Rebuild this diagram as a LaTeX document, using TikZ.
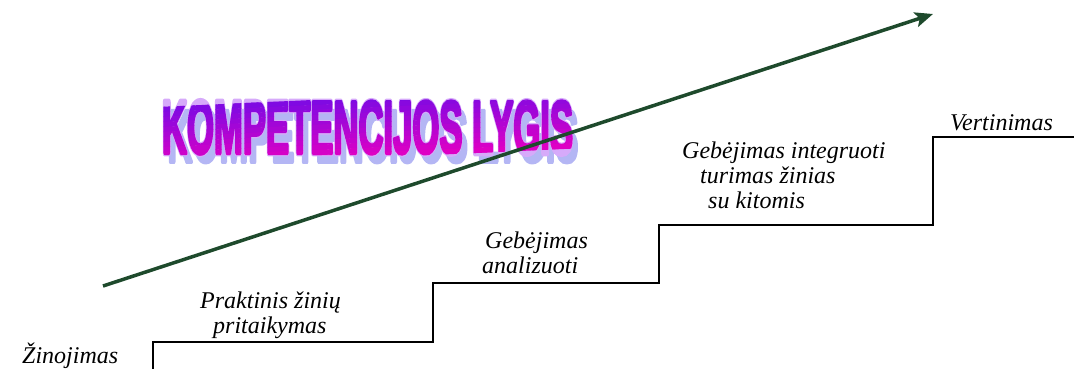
\documentclass[tikz,border=0pt]{standalone}
\usepackage{fontspec}
\usepackage{graphicx}
\usetikzlibrary{arrows.meta}
\newfontfamily\labfont{Liberation Serif}
\newfontfamily\wafont{Liberation Sans Bold}[FakeBold=5]
\newfontfamily\waoutfont{Liberation Sans Bold}[FakeBold=8.5]
\definecolor{arrowgreen}{RGB}{30,74,44}
\definecolor{watop}{RGB}{128,10,226}
\definecolor{wabot}{RGB}{222,0,196}
\definecolor{waline}{RGB}{214,170,250}
\definecolor{washadow}{RGB}{180,182,244}
\newcommand\wordart[1]{\resizebox{411pt}{52pt}{#1KOMPETENCIJOS LYGIS}}
\tikzset{
  lbl/.style={font=\labfont\itshape\fontsize{24}{26}\selectfont, anchor=base west, inner sep=0pt},
  wa/.style={inner sep=0pt, anchor=center, miter limit=1.5, line join=round},
  stairs/.style={line width=2.2pt, black, line join=miter},
  growth/.style={line width=3.5pt, arrowgreen, -{Stealth[length=18pt,width=15pt,inset=4pt]}}
}
\begin{document}
\begin{tikzpicture}[x=1pt,y=1pt]
\useasboundingbox (0,0) rectangle (1074,368);
% word art
\begin{scope}[shift={(367.5,240.5)},rotate=2.6]
  \node[wa,text=washadow] (wshadow) at (5,-9) {\wordart\wafont};
  \node[wa,text=waline] (wline) at (0,0) {\wordart\waoutfont};
  \foreach \i in {0,...,11}{
    \pgfmathsetmacro\ya{30-\i*60/12}
    \pgfmathsetmacro\yb{\ya-60/12-0.4}
    \pgfmathtruncatemacro\p{100*\i/11}
    \begin{scope}
      \clip (-218,\ya) rectangle (218,\yb);
      \node[wa,text=wabot!\p!watop] (wfill\i) at (0,0) {\wordart\wafont};
    \end{scope}
  }
\end{scope}
% staircase
\draw[stairs] (153,-2) -- (153,26) -- (433,26) -- (433,85) -- (659,85) -- (659,143) -- (933,143) -- (933,231) -- (1076,231);
% arrow
\coordinate (arS) at (103,82);
\coordinate (arE) at (933,354);
\draw[growth] (arS) -- (arE);
% labels
\node[lbl] (zin) at (22,5) {Žinojimas};
\node[lbl] (prak1) at (200,60) {Praktinis žinių};
\node[lbl] (prak2) at (213,35) {pritaikymas};
\node[lbl] (anal1) at (485,120) {Gebėjimas};
\node[lbl] (anal2) at (482,95) {analizuoti};
\node[lbl] (int1) at (682,210) {Gebėjimas integruoti};
\node[lbl] (int2) at (700,185) {turimas žinias};
\node[lbl] (int3) at (708,160) {su kitomis};
\node[lbl] (vert) at (950,238) {Vertinimas};
\end{tikzpicture}
\end{document}
